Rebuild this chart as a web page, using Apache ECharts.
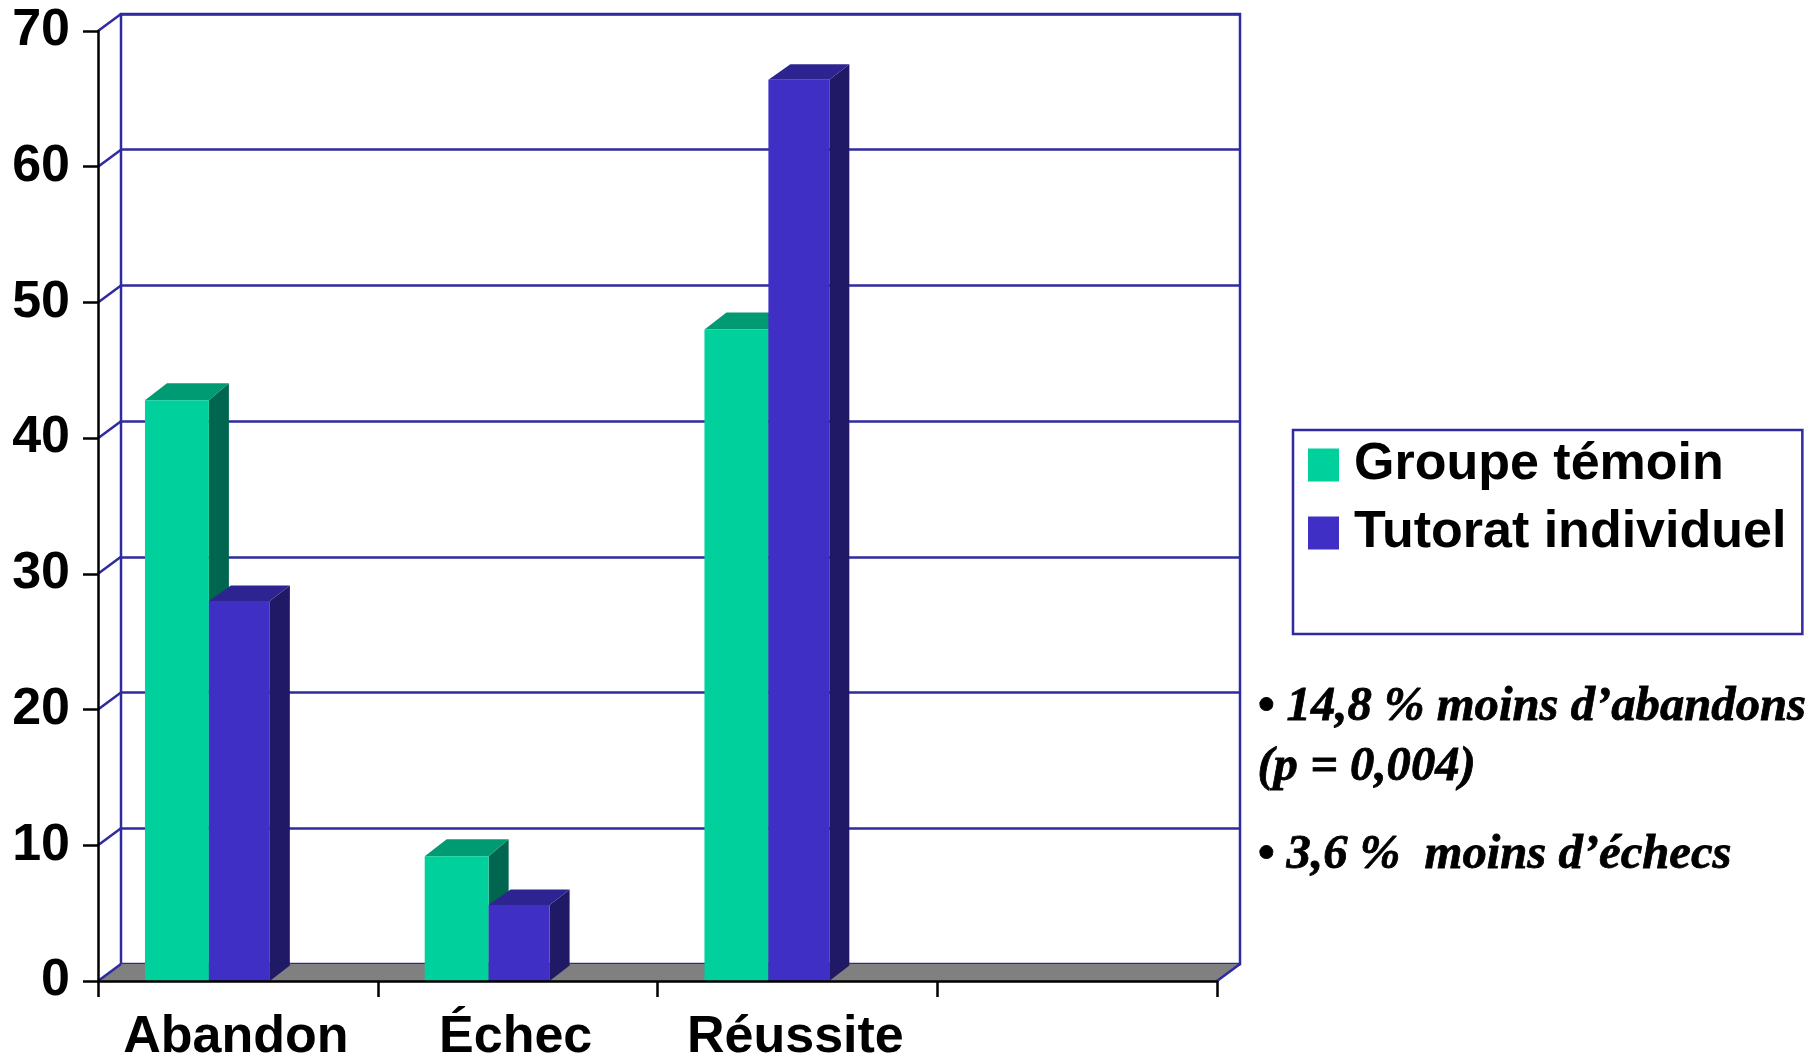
<!DOCTYPE html>
<html>
<head>
<meta charset="utf-8">
<style>html,body{margin:0;padding:0;background:#fff}#chart{width:1812px;height:1056px}</style>
<script src="https://cdn.jsdelivr.net/npm/echarts@6/dist/echarts.min.js"></script>
</head>
<body>
<div id="chart"></div>
<script>
// Outcomes by group, in percent
const categories = ['Abandon', 'Échec', 'Réussite', ''];
const groupeTemoin = [42.8, 9.2, 48.0];
const tutoratIndividuel = [28.0, 5.6, 66.4];
const yTicks = [0, 10, 20, 30, 40, 50, 60, 70];
const notes = ['• 14,8 % moins d’abandons', '(p = 0,004)', '• 3,6 %  moins d’échecs'];

const WALL = '#2f2a9e', FLOOR = '#808080';
const wallDx = 23, wallDy = -17;   // offset of the back wall from the front axes
const barDx = 20;                  // horizontal depth of each bar

// One extruded bar: front face, top and right side
function bar3d(startFrac, widthFrac, barDy, front, top, side) {
  return function (params, api) {
    const band = api.size([1, 0])[0];
    const base = api.coord([api.value(0), 0]);
    const head = api.coord([api.value(0), api.value(1)]);
    const x0 = base[0] - band / 2 + band * startFrac;
    const x1 = x0 + band * widthFrac;
    const y0 = base[1], y1 = head[1];
    return {
      type: 'group',
      children: [
        { type: 'polygon', shape: { points: [[x1, y0], [x1 + barDx, y0 + barDy], [x1 + barDx, y1 + barDy], [x1, y1]] }, style: { fill: side } },
        { type: 'polygon', shape: { points: [[x0, y1], [x0 + barDx + 2, y1 + barDy], [x1 + barDx, y1 + barDy], [x1, y1]] }, style: { fill: top } },
        { type: 'rect', shape: { x: x0, y: y1, width: x1 - x0, height: y0 - y1 }, style: { fill: front } }
      ]
    };
  };
}

// Grey floor between the front axis and the foot of the back wall
function floorItem(params) {
  const c = params.coordSys;
  const b = c.y + c.height, l = c.x, r = c.x + c.width;
  return {
    type: 'group',
    children: [
      { type: 'polygon', shape: { points: [[l, b], [l + wallDx, b + wallDy], [r + wallDx, b + wallDy], [r, b]] }, style: { fill: FLOOR } },
      { type: 'line', shape: { x1: r, y1: b, x2: r + wallDx, y2: b + wallDy }, style: { stroke: WALL, lineWidth: 2.5 } }
    ]
  };
}

// Short oblique link from each y tick to its gridline on the wall
function linkItem(params, api) {
  const x = params.coordSys.x;
  const y = api.coord([0, api.value(0)])[1];
  return { type: 'line', shape: { x1: x, y1: y, x2: x + wallDx, y2: y + wallDy }, style: { stroke: WALL, lineWidth: 2.5 } };
}

const frontLabel = { fontFamily: 'Liberation Sans', fontWeight: 'bold', fontSize: 52, color: '#000' };
const blackLine = { lineStyle: { color: '#000', width: 2.5 } };

const option = {
  animation: false,
  backgroundColor: '#fff',
  grid: [
    { left: 98, top: 31, width: 1119, height: 950, outerBoundsMode: 'none' },
    { left: 98 + wallDx, top: 31 + wallDy, width: 1119, height: 950, outerBoundsMode: 'none', show: true, borderColor: WALL, borderWidth: 2.5, backgroundColor: 'transparent' }
  ],
  xAxis: [
    { type: 'category', gridIndex: 0, data: categories, z: 10, axisLine: blackLine, axisTick: { show: true, length: 16, alignWithLabel: false, lineStyle: { color: '#000', width: 2.5 } }, axisLabel: Object.assign({ margin: 31, interval: 0, padding: [0, 4, 0, 0] }, frontLabel), splitLine: { show: false } },
    { type: 'category', gridIndex: 1, data: categories, show: false }
  ],
  yAxis: [
    { type: 'value', gridIndex: 0, min: 0, max: 70, interval: 10, z: 10, axisLine: Object.assign({ show: true }, blackLine), axisTick: { show: true, length: 15, lineStyle: { color: '#000', width: 2.5 } }, axisLabel: Object.assign({ margin: 28 }, frontLabel), splitLine: { show: false } },
    { type: 'value', gridIndex: 1, min: 0, max: 70, interval: 10, axisLine: { show: false }, axisTick: { show: false }, axisLabel: { show: false }, splitLine: { show: true, lineStyle: { color: WALL, width: 2.5 } } }
  ],
  legend: {
    left: 1293, top: 430, orient: 'vertical', icon: 'rect',
    itemWidth: 31, itemHeight: 33, itemGap: 16,
    padding: [9, 16, 75, 15],
    borderColor: WALL, borderWidth: 2.5,
    textStyle: { fontFamily: 'Liberation Sans', fontWeight: 'bold', fontSize: 52, color: '#000', padding: [2, 0, 0, 10] },
    data: [
      { name: 'Groupe témoin', itemStyle: { color: '#00d09b' } },
      { name: 'Tutorat individuel', itemStyle: { color: '#3f2fc4' } }
    ]
  },
  series: [
    { type: 'custom', z: 1, silent: true, coordinateSystem: 'cartesian2d', renderItem: floorItem, data: [[0]], clip: false, encode: { x: 0 } },
    { type: 'custom', z: 1, silent: true, coordinateSystem: 'cartesian2d', renderItem: linkItem, data: yTicks.map(v => [v]), clip: false, encode: { y: 0 } },
    {
      name: 'Groupe témoin', type: 'custom', z: 2, clip: false,
      itemStyle: { color: '#00d09b' }, encode: { x: 0, y: 1 },
      renderItem: bar3d(47 / 280, 64 / 280, -17, '#00d09b', '#009b72', '#006650'),
      data: groupeTemoin.map((v, i) => [i, v])
    },
    {
      name: 'Tutorat individuel', type: 'custom', z: 3, clip: false,
      itemStyle: { color: '#3f2fc4' }, encode: { x: 0, y: 1 },
      renderItem: bar3d(111 / 280, 61 / 280, -15.5, '#3f2fc4', '#2e2491', '#201a66'),
      data: tutoratIndividuel.map((v, i) => [i, v])
    }
  ],
  graphic: notes.map((text, i) => ({
    type: 'text',
    left: 1257,
    top: [683, 743, 831][i],
    style: { text, fontFamily: 'Liberation Serif', fontStyle: 'italic', fontWeight: 'bold', fontSize: 48.7, fill: '#000', stroke: '#000', lineWidth: 0.8 }
  }))
};

echarts.init(document.getElementById('chart')).setOption(option);
</script>
</body>
</html>
